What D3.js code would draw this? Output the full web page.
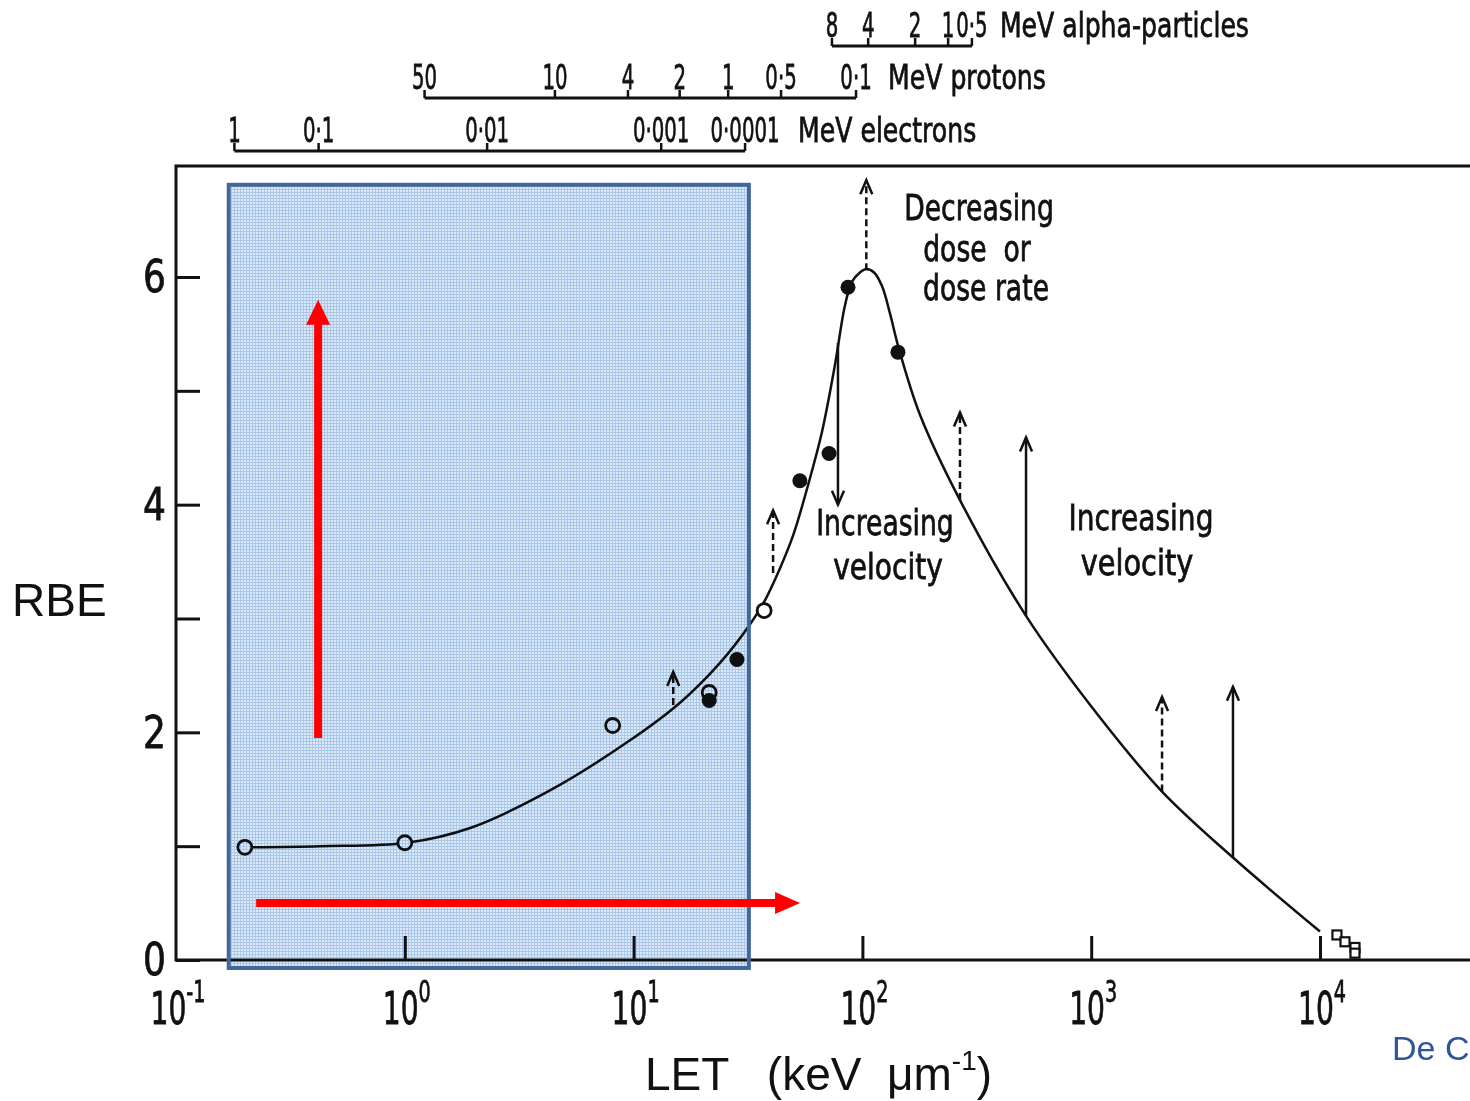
<!DOCTYPE html>
<html>
<head>
<meta charset="utf-8">
<script src="https://cdn.jsdelivr.net/npm/d3@7"></script>
<style>
  html, body { margin: 0; padding: 0; background: #fff; }
  svg { display: block; }
</style>
</head>
<body>
<svg id="chart"></svg>
<script>
// RBE vs LET, with particle energy scales on top

const width = 1470;
const height = 1101;

// main curve (LET in keV/um, RBE)
const curveLET = [0.2, 0.426, 1.02, 1.93, 4.31, 9.65, 15.95, 23.85, 32.3, 37.5, 43.6, 49.8, 58.4, 66.6, 75.9, 83.9, 90.1, 97.6, 103.7, 112.4, 121.8, 132, 143, 178.5, 267, 524, 1092, 2040, 4165, 10000];
const curveRBE = [0.99, 1.0, 1.03, 1.16, 1.49, 1.93, 2.26, 2.61, 2.95, 3.16, 3.44, 3.73, 4.20, 4.64, 5.23, 5.75, 5.96, 6.04, 6.07, 6.04, 5.92, 5.68, 5.40, 4.79, 4.04, 3.01, 2.13, 1.48, 0.90, 0.25];

// measured points
const openLET = [0.2, 1.0, 8.1, 21.4, 37.2];
const openRBE = [0.99, 1.03, 2.06, 2.35, 3.07];
const filledLET = [21.4, 28.3, 53.3, 71.5, 86.5, 143];
const filledRBE = [2.28, 2.64, 4.21, 4.45, 5.91, 5.34];
const squareLET = [11860, 12860, 14220, 14220];
const squareRBE = [0.22, 0.16, 0.11, 0.06];

// vertical arrows (dashed = decreasing dose, solid = increasing velocity)
const arrowLET = [14.9, 40.7, 104, 78.2, 267, 519, 2040, 4165];
const arrowFrom = [2.24, 3.40, 6.06, 5.42, 4.04, 3.02, 1.48, 0.90];
const arrowTo = [2.53, 3.95, 6.85, 4.0, 4.81, 4.59, 2.31, 2.40];
const arrowDashed = [true, true, true, false, true, false, true, false];

// axis ticks
const yTicks = [0, 1, 2, 3, 4, 5, 6];
const xTicks = [0.1, 1, 10, 100, 1000, 10000];
const xTickExp = ['-1', '0', '1', '2', '3', '4'];

// particle energy scales (label, LET position on main axis)
const alphaLabels = ['8', '4', '2', '1', '0·5'];
const alphaLET = [73.6, 106, 170, 237, 301];
const protonLabels = ['50', '10', '4', '2', '1', '0·5', '0·1'];
const protonLET = [1.22, 4.53, 9.45, 15.9, 25.9, 44.1, 93.8];
const electronLabels = ['1', '0·1', '0·01', '0·001', '0·0001'];
const electronLET = [0.18, 0.42, 2.29, 13.2, 30.7];

// highlight box and red arrows (data units)
const boxLET = [0.17, 31.9];
const boxRBE = [-0.07, 6.81];
const redUpLET = 0.418, redUpRBE = [1.95, 5.80];
const redRightRBE = 0.5, redRightLET = [0.224, 53.4];

const svg = d3.select('#chart')
  .attr('width', width)
  .attr('height', height);

const x = d3.scaleLog().domain([0.1, 1e4]).range([176, 1320]);
const y = d3.scaleLinear().domain([0, 6]).range([960, 277]);

const ink = '#111';
const leroy = 'DejaVu Sans';

const defs = svg.append('defs');
const pat = defs.append('pattern')
  .attr('id', 'grid')
  .attr('width', 3).attr('height', 3)
  .attr('patternUnits', 'userSpaceOnUse');
pat.append('rect').attr('width', 3).attr('height', 3).attr('fill', '#dde9f7');
pat.append('path').attr('d', 'M0,0.5H3M0.5,0V3').attr('stroke', '#a9c7e8').attr('stroke-width', 1);

defs.append('marker')
  .attr('id', 'head')
  .attr('markerUnits', 'userSpaceOnUse')
  .attr('viewBox', '-16 -10 20 20')
  .attr('markerWidth', 20).attr('markerHeight', 20)
  .attr('refX', 0).attr('refY', 0)
  .attr('orient', 'auto')
  .append('path')
    .attr('d', 'M-14,-6L0,0L-14,6')
    .attr('fill', 'none')
    .attr('stroke', ink)
    .attr('stroke-width', 2.5);

// helper for the stencil-style lettering (narrow, a bit heavy)
function letter(g, px, py, str, size, sx, anchor) {
  return g.append('text')
    .attr('transform', `translate(${px},${py}) scale(${sx},1)`)
    .attr('text-anchor', anchor || 'middle')
    .attr('font-family', leroy)
    .attr('font-size', size)
    .attr('fill', ink)
    .attr('stroke', ink)
    .attr('stroke-width', 0.8)
    .style('white-space', 'pre')
    .text(str);
}

// frame
const x0 = x(0.1);
svg.append('path')
  .attr('d', `M${width},166H${x0}V${y(0)}H${width}`)
  .attr('fill', 'none')
  .attr('stroke', ink)
  .attr('stroke-width', 3);

// y axis
const gy = svg.append('g')
  .attr('transform', `translate(${x0},0)`)
  .call(d3.axisLeft(y).tickValues(yTicks).tickSize(-24).tickPadding(0)
    .tickFormat(d => d % 2 === 0 ? d : ''));
gy.select('.domain').remove();
gy.selectAll('line').attr('stroke', ink).attr('stroke-width', 3);
gy.selectAll('text')
  .attr('x', null)
  .attr('dy', '0.34em')
  .attr('transform', 'translate(-10,0) scale(0.82,1)')
  .attr('font-family', leroy)
  .attr('font-size', 44)
  .attr('fill', ink)
  .attr('stroke', ink)
  .attr('stroke-width', 0.8);

// x axis
const gx = svg.append('g')
  .attr('transform', `translate(0,${y(0)})`)
  .call(d3.axisBottom(x).tickValues(xTicks.slice(1)).tickSize(-24).tickFormat(''));
gx.select('.domain').remove();
gx.selectAll('line').attr('stroke', ink).attr('stroke-width', 3);

const xl = svg.append('g').selectAll('text')
  .data(xTicks)
  .join('text')
    .attr('transform', d => `translate(${x(d) + 2},1024) scale(0.64,1)`)
    .attr('text-anchor', 'middle')
    .attr('font-family', leroy)
    .attr('font-size', 44)
    .attr('fill', ink)
    .attr('stroke', ink)
    .attr('stroke-width', 0.8);
xl.append('tspan').text('10');
xl.append('tspan').attr('dy', -22).attr('font-size', 30).text((d, i) => xTickExp[i]);

// axis titles
svg.append('text')
  .attr('x', 12).attr('y', 616)
  .attr('font-family', 'Liberation Sans, Arial, sans-serif')
  .attr('font-size', 46)
  .attr('fill', ink)
  .text('RBE');

const letTitle = svg.append('text')
  .attr('x', 645).attr('y', 1090)
  .attr('font-family', 'Liberation Sans, Arial, sans-serif')
  .attr('font-size', 46)
  .attr('fill', ink)
  .style('white-space', 'pre');
letTitle.append('tspan').text('LET   (keV  μm');
letTitle.append('tspan').attr('dy', -20).attr('font-size', 28).text('-1');
letTitle.append('tspan').attr('dy', 20).text(')');

// particle energy scales along the top
const topScales = [
  { labels: alphaLabels, lets: alphaLET, unit: 'MeV alpha-particles', lineY: 46, gap: 28 },
  { labels: protonLabels, lets: protonLET, unit: 'MeV protons', lineY: 98, gap: 32 },
  { labels: electronLabels, lets: electronLET, unit: 'MeV electrons', lineY: 151, gap: 53 }
];

topScales.forEach(s => {
  const g = svg.append('g');
  const xs = s.lets.map(v => x(v));
  g.append('path')
    .attr('d', `M${xs[0]},${s.lineY}H${xs[xs.length - 1]}`)
    .attr('stroke', ink).attr('stroke-width', 3).attr('fill', 'none');
  g.selectAll('line')
    .data(xs)
    .join('line')
      .attr('x1', d => d).attr('x2', d => d)
      .attr('y1', s.lineY).attr('y2', s.lineY - 8)
      .attr('stroke', ink).attr('stroke-width', 2.5);
  s.labels.forEach((lab, i) => letter(g, xs[i], s.lineY - 9, lab, 34, 0.58));
  letter(g, xs[xs.length - 1] + s.gap, s.lineY - 9, s.unit, 34, 0.74, 'start');
});

// the RBE curve
const pts = curveLET.map((v, i) => [x(v), y(curveRBE[i])]);
svg.append('path')
  .attr('d', d3.line().curve(d3.curveCatmullRom.alpha(0.5))(pts))
  .attr('fill', 'none')
  .attr('stroke', ink)
  .attr('stroke-width', 2.5);

// arrows
svg.append('g').selectAll('line')
  .data(arrowLET)
  .join('line')
    .attr('x1', d => x(d)).attr('x2', d => x(d))
    .attr('y1', (d, i) => y(arrowFrom[i]))
    .attr('y2', (d, i) => y(arrowTo[i]))
    .attr('stroke', ink)
    .attr('stroke-width', 2.5)
    .attr('stroke-dasharray', (d, i) => arrowDashed[i] ? '7,4' : null)
    .attr('marker-end', 'url(#head)');

// points
svg.append('g').selectAll('circle')
  .data(openLET)
  .join('circle')
    .attr('cx', d => x(d))
    .attr('cy', (d, i) => y(openRBE[i]))
    .attr('r', 7)
    .attr('fill', '#fff')
    .attr('stroke', ink)
    .attr('stroke-width', 2.8);

svg.append('g').selectAll('circle')
  .data(filledLET)
  .join('circle')
    .attr('cx', d => x(d))
    .attr('cy', (d, i) => y(filledRBE[i]))
    .attr('r', 7.5)
    .attr('fill', ink);

svg.append('g').selectAll('rect')
  .data(squareLET)
  .join('rect')
    .attr('x', d => x(d) - 4.5)
    .attr('y', (d, i) => y(squareRBE[i]) - 4.5)
    .attr('width', 9).attr('height', 9)
    .attr('fill', '#fff')
    .attr('stroke', ink)
    .attr('stroke-width', 2.2);

// annotations
const notes = svg.append('g');
letter(notes, 979, 220, 'Decreasing', 36, 0.74);
letter(notes, 977, 261, 'dose  or', 36, 0.74);
letter(notes, 986, 300, 'dose rate', 36, 0.74);
letter(notes, 885, 535, 'Increasing', 36, 0.74);
letter(notes, 888, 579, 'velocity', 36, 0.78);
letter(notes, 1141, 530, 'Increasing', 36, 0.78);
letter(notes, 1137, 575, 'velocity', 36, 0.8);

// blue highlight box
const bx = x(boxLET[0]), bw = x(boxLET[1]) - bx;
const by = y(boxRBE[1]), bh = y(boxRBE[0]) - by;
svg.append('rect')
  .attr('x', bx).attr('y', by).attr('width', bw).attr('height', bh)
  .attr('fill', 'url(#grid)')
  .style('mix-blend-mode', 'multiply');
svg.append('rect')
  .attr('x', bx).attr('y', by).attr('width', bw).attr('height', bh)
  .attr('fill', 'none')
  .attr('stroke', '#41679b')
  .attr('stroke-width', 4);

// red arrows
const red = '#ff0000';
const upX = x(redUpLET), upY0 = y(redUpRBE[0]), upY1 = y(redUpRBE[1]);
svg.append('line')
  .attr('x1', upX).attr('x2', upX)
  .attr('y1', upY0).attr('y2', upY1 + 22)
  .attr('stroke', red).attr('stroke-width', 8);
svg.append('path')
  .attr('d', `M${upX},${upY1}L${upX - 12},${upY1 + 25}L${upX + 12},${upY1 + 25}Z`)
  .attr('fill', red);

const rY = y(redRightRBE), rX0 = x(redRightLET[0]), rX1 = x(redRightLET[1]);
svg.append('line')
  .attr('x1', rX0).attr('x2', rX1 - 22)
  .attr('y1', rY).attr('y2', rY)
  .attr('stroke', red).attr('stroke-width', 8);
svg.append('path')
  .attr('d', `M${rX1},${rY}L${rX1 - 25},${rY - 11}L${rX1 - 25},${rY + 11}Z`)
  .attr('fill', red);

// source credit at the lower right
svg.append('text')
  .attr('x', 1392).attr('y', 1060)
  .attr('font-family', 'Liberation Sans, Arial, sans-serif')
  .attr('font-size', 34)
  .attr('fill', '#2f5597')
  .text('De C');
</script>
</body>
</html>
